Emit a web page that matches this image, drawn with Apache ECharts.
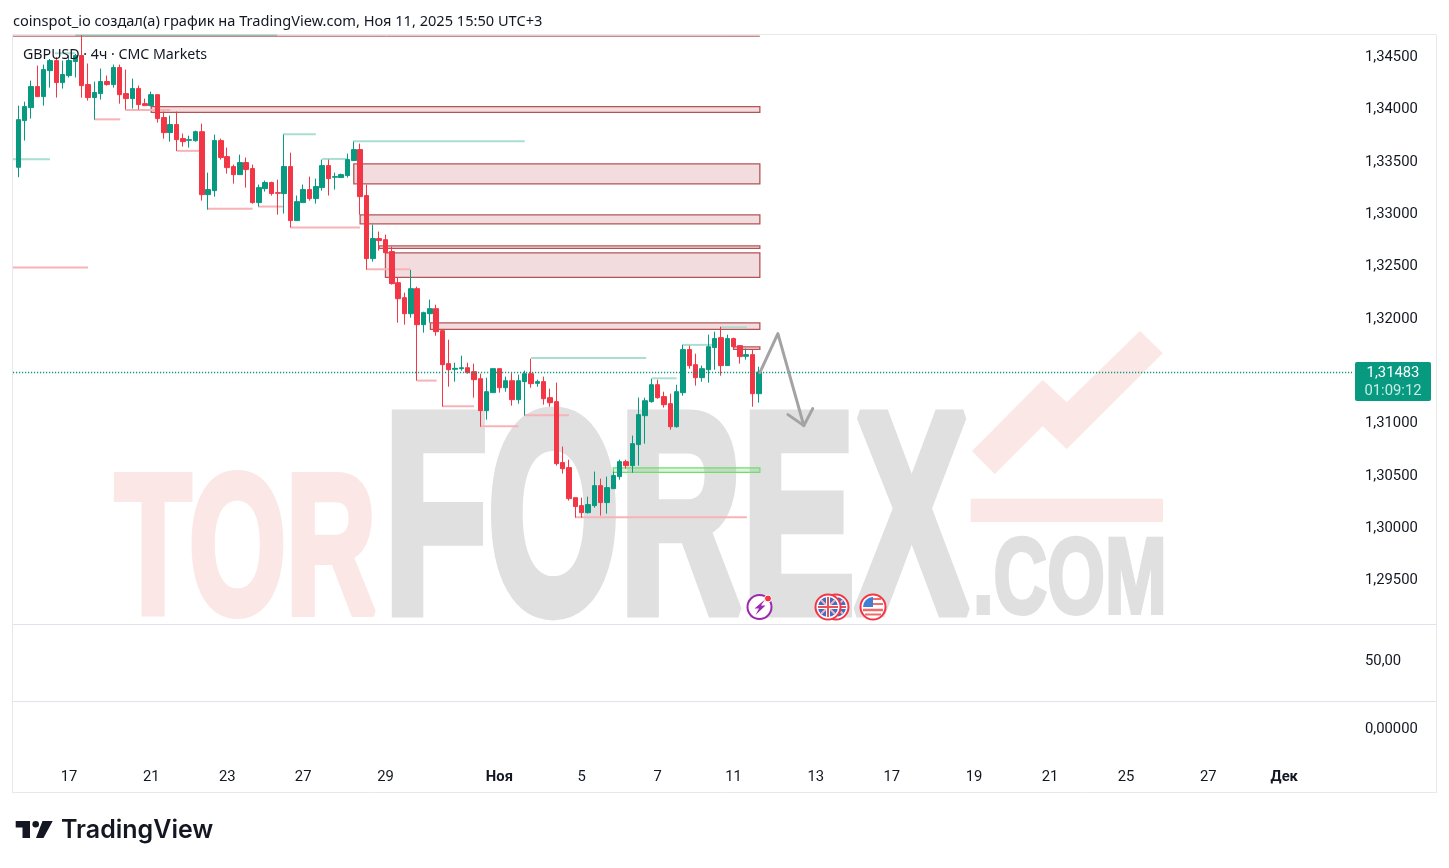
<!DOCTYPE html>
<html>
<head>
<meta charset="utf-8">
<title>GBPUSD 4ч</title>
<style>
    html, body { margin: 0; padding: 0; background: #fff; }
    #main { width: 1449px; height: 868px; }
</style>
<script src="https://cdn.jsdelivr.net/npm/echarts@6/dist/echarts.min.js"></script>
</head>
<body>
<div id="main"></div>
<script>
// bars
var opens = [
    1.33438,1.33884,1.34008,1.34209,1.34113,1.34361,1.34457,1.34247,1.34314,1.34448,
    1.34505,1.34228,1.34104,1.34142,1.34257,1.34228,1.34391,1.34142,1.34094,1.34190,
    1.34046,1.34027,1.34132,1.33913,1.33769,1.33846,1.33712,1.33696,1.33692,1.33778,
    1.33177,1.33215,1.33693,1.33540,1.33445,1.33368,1.33483,1.33426,1.33101,1.33234,
    1.33292,1.33196,1.33187,1.33445,1.32929,1.33101,1.33225,1.33139,1.33244,1.33454,
    1.33343,1.33340,1.33359,1.33502,1.33607,1.33168,1.32566,1.32757,1.32747,1.32633,
    1.32336,1.32193,1.32040,1.32279,1.31935,1.32040,1.32088,1.31878,1.31563,1.31509,
    1.31515,1.31524,1.31486,1.31419,1.31114,1.31286,1.31515,1.31333,1.31400,1.31219,
    1.31391,1.31467,1.31375,1.31391,1.31238,1.31200,1.30618,1.30570,1.30283,1.30207,
    1.30140,1.30207,1.30398,1.30236,1.30369,1.30484,1.30627,1.30589,1.30790,1.31066,
    1.31200,1.31362,1.31248,1.31181,1.30961,1.31286,1.31697,1.31553,1.31429,1.31505,
    1.31716,1.31811,1.31544,1.31802,1.31735,1.31633,1.31649,1.31276];
var closes = [
    1.33893,1.34018,1.34209,1.34113,1.34371,1.34457,1.34247,1.34324,1.34457,1.34505,
    1.34218,1.34104,1.34152,1.34257,1.34228,1.34391,1.34132,1.34094,1.34190,1.34037,
    1.34027,1.34132,1.33903,1.33769,1.33846,1.33702,1.33683,1.33702,1.33778,1.33177,
    1.33225,1.33693,1.33531,1.33435,1.33368,1.33483,1.33416,1.33101,1.33244,1.33292,
    1.33187,1.33190,1.33445,1.32929,1.33110,1.33225,1.33139,1.33254,1.33454,1.33330,
    1.33349,1.33368,1.33512,1.33607,1.33158,1.32566,1.32757,1.32738,1.32623,1.32327,
    1.32183,1.32040,1.32279,1.31935,1.32050,1.32088,1.31868,1.31553,1.31505,1.31518,
    1.31524,1.31477,1.31410,1.31114,1.31295,1.31515,1.31333,1.31400,1.31219,1.31400,
    1.31467,1.31372,1.31391,1.31228,1.31190,1.30608,1.30560,1.30274,1.30198,1.30140,
    1.30217,1.30398,1.30236,1.30379,1.30494,1.30627,1.30589,1.30799,1.31076,1.31209,
    1.31362,1.31238,1.31171,1.30961,1.31295,1.31697,1.31544,1.31429,1.31515,1.31725,
    1.31802,1.31544,1.31802,1.31725,1.31630,1.31649,1.31276,1.31483];
var lows = [
    1.33343,1.33693,1.33903,1.34113,1.34027,1.34199,1.34104,1.34190,1.34295,1.34295,
    1.34104,1.34075,1.33893,1.34085,1.34218,1.34199,1.34046,1.33989,1.33999,1.33989,
    1.34027,1.34018,1.33865,1.33712,1.33683,1.33594,1.33635,1.33626,1.33683,1.33120,
    1.33034,1.33158,1.33512,1.33378,1.33282,1.33368,1.33244,1.33091,1.33063,1.33206,
    1.33168,1.32986,1.32996,1.32862,1.32929,1.33101,1.33120,1.33091,1.33215,1.33168,
    1.33225,1.33340,1.33340,1.33502,1.32986,1.32461,1.32537,1.32642,1.32623,1.32318,
    1.31954,1.31935,1.32002,1.31400,1.31859,1.31954,1.31830,1.31152,1.31343,1.31391,
    1.31496,1.31467,1.31238,1.30961,1.31028,1.31286,1.31286,1.31295,1.31162,1.31181,
    1.31066,1.31333,1.31343,1.31171,1.31152,1.30589,1.30513,1.30255,1.30092,1.30092,
    1.30131,1.30188,1.30112,1.30131,1.30369,1.30455,1.30560,1.30522,1.30589,1.30799,
    1.31190,1.31228,1.31143,1.30932,1.30952,1.31257,1.31515,1.31353,1.31391,1.31381,
    1.31505,1.31448,1.31544,1.31725,1.31563,1.31601,1.31152,1.31190];
var highs = [
    1.34027,1.34065,1.34266,1.34409,1.34419,1.34473,1.34489,1.34457,1.34505,1.34521,
    1.34699,1.34429,1.34257,1.34381,1.34314,1.34419,1.34419,1.34371,1.34285,1.34218,
    1.34094,1.34161,1.34132,1.33970,1.33932,1.33970,1.33760,1.33740,1.33788,1.33855,
    1.33387,1.33750,1.33712,1.33626,1.33464,1.33559,1.33531,1.33464,1.33273,1.33311,
    1.33301,1.33320,1.33750,1.33578,1.33168,1.33273,1.33349,1.33330,1.33512,1.33512,
    1.33387,1.33378,1.33569,1.33683,1.33664,1.33273,1.32891,1.32824,1.32795,1.32681,
    1.32387,1.32241,1.32457,1.32298,1.32059,1.32174,1.32126,1.31887,1.31792,1.31572,
    1.31639,1.31572,1.31563,1.31467,1.31429,1.31515,1.31515,1.31439,1.31477,1.31458,
    1.31496,1.31610,1.31410,1.31439,1.31324,1.31382,1.30771,1.30646,1.30283,1.30283,
    1.30293,1.30532,1.30465,1.30484,1.30532,1.30646,1.30646,1.30876,1.31239,1.31238,
    1.31420,1.31410,1.31295,1.31276,1.31362,1.31744,1.31735,1.31658,1.31544,1.31840,
    1.31868,1.31916,1.31840,1.31811,1.31735,1.31706,1.31697,1.31534];

var lastPrice = 1.31483;
var lastPriceText = '1,31483';
var countdownText = '01:09:12';

// x axis, price axis and the two empty panes below
var dateTicks = [8, 21, 33, 45, 58, 76, 89, 101, 113, 126, 138, 151, 163, 175, 188, 200];
var dateLabels = ['17', '21', '23', '27', '29', 'Ноя', '5', '7', '11', '13', '17', '19', '21', '25', '27', 'Дек'];
var priceTicks = [1.295, 1.300, 1.305, 1.310, 1.320, 1.325, 1.330, 1.335, 1.340, 1.345];

// resistance / support boxes: [from bar, to bar, upper price, lower price]
var redZones = [
    [21, 117.15, 1.34018, 1.33963],
    [53, 117.15, 1.33470, 1.33279],
    [54, 117.15, 1.32983, 1.32897],
    [57, 117.15, 1.32687, 1.32664],
    [58, 117.15, 1.32620, 1.32387],
    [65.1, 117.15, 1.31952, 1.31891],
    [113, 117.15, 1.31723, 1.31700]
];
var greenZones = [[94, 117.15, 1.30567, 1.30525]];

// liquidity lines: [from bar, to bar, price]
var tealLines = [
    [-0.84, 5, 1.33514], [5.8, 9, 1.34527], [9, 40.9, 1.34700], [41.8, 47, 1.33753],
    [48, 51.9, 1.33518], [52.9, 80, 1.33686], [81, 99.2, 1.31618], [100.1, 104, 1.31423],
    [105, 109.7, 1.31742], [111, 115.1, 1.31910]
];
var pinkLines = [
    [-0.84, 11, 1.32480], [12, 16.1, 1.33896], [16.9, 24, 1.33986], [25, 28.7, 1.33595],
    [29.8, 37, 1.33041], [37.9, 42, 1.33063], [43, 54, 1.32862], [55, 62, 1.32464],
    [63, 66.1, 1.31401], [67, 72, 1.31155], [73, 79, 1.30964], [80, 87, 1.31069],
    [88, 115.1, 1.30095]
];
var topLine = [[-0.84, 117.15, 1.34690]];

// hand drawn forecast arrow
var arrowPath = [[117.15, 1.31477], [120, 1.31850], [124.1, 1.30971]];
var arrowHead = [[121.6, 1.31076], [124.1, 1.30971], [125.5, 1.31133]];

var UP = '#089981', DOWN = '#f23645', TEXT = '#131722';
var FONT = '"Noto Sans", sans-serif';
var LABEL_FONT = 'Roboto, sans-serif';
var LABEL_SIZE = 14.8;

var candles = [];
for (var i = 0; i < opens.length; i++) {
    candles.push([i, opens[i], closes[i], lows[i], highs[i]]);
}

function renderZone(fill, stroke) {
    return function(params, api) {
        var a = api.coord([api.value(0), api.value(2)]);
        var b = api.coord([api.value(1), api.value(3)]);
        return {
            type: 'rect',
            shape: { x: a[0], y: a[1], width: b[0] - a[0], height: b[1] - a[1] },
            style: { fill: fill, stroke: stroke, lineWidth: 1.3 }
        };
    };
}

function renderLevel(stroke, width) {
    return function(params, api) {
        var a = api.coord([api.value(0), api.value(2)]);
        var b = api.coord([api.value(1), api.value(2)]);
        return {
            type: 'line',
            shape: { x1: a[0], y1: a[1], x2: b[0], y2: b[1] },
            style: { stroke: stroke, lineWidth: width }
        };
    };
}

function levelSeries(data, stroke, width) {
    return {
        type: 'custom', data: data, clip: true, silent: true, z: 3,
        encode: { x: [0, 1], y: 2 },
        renderItem: renderLevel(stroke, width)
    };
}

function zoneSeries(data, fill, stroke) {
    return {
        type: 'custom', data: data, clip: true, silent: true, z: 3,
        encode: { x: [0, 1], y: [2, 3] },
        renderItem: renderZone(fill, stroke)
    };
}

function arrowSeries(data) {
    return {
        type: 'line', data: data, symbol: 'none', silent: true, z: 6,
        lineStyle: { color: '#a3a3a3', width: 3, cap: 'round', join: 'round' }
    };
}

// ---- pieces that are not data: watermark, frame, badges, logo
function wmText(text, x, y, size, sx, fill, stroke) {
    return {
        type: 'text', x: x, y: y, scaleX: sx, z: -10, silent: true,
        style: { text: text, font: 'bold ' + size + 'px "Liberation Sans"', fill: fill,
            stroke: fill, lineWidth: stroke, align: 'left', verticalAlign: 'middle' }
    };
}

function flagRing(cx, cy, z) {
    return { type: 'circle', z: z, shape: { cx: cx, cy: cy, r: 12.5 },
        style: { fill: '#fff', stroke: DOWN, lineWidth: 2 } };
}

function sector(cx, cy, from, to, fill, z) {
    return { type: 'sector', z: z + 1, shape: { cx: cx, cy: cy, r: 10, startAngle: from, endAngle: to },
        style: { fill: fill } };
}

function ukFlag(cx, cy, z) {
    var q = Math.PI / 2, items = [flagRing(cx, cy, z)];
    for (var k = 0; k < 4; k++) {
        items.push(sector(cx, cy, k * q, (k + 1) * q, '#3f6fc4', z));
    }
    var d = 7;
    items.push(
        { type: 'line', z: z + 2, shape: { x1: cx - d, y1: cy - d, x2: cx + d, y2: cy + d }, style: { stroke: '#f5b5b5', lineWidth: 2 } },
        { type: 'line', z: z + 2, shape: { x1: cx - d, y1: cy + d, x2: cx + d, y2: cy - d }, style: { stroke: '#f5b5b5', lineWidth: 2 } },
        { type: 'line', z: z + 2, shape: { x1: cx - 10, y1: cy, x2: cx + 10, y2: cy }, style: { stroke: '#fff', lineWidth: 4 } },
        { type: 'line', z: z + 2, shape: { x1: cx, y1: cy - 10, x2: cx, y2: cy + 10 }, style: { stroke: '#fff', lineWidth: 4 } },
        { type: 'line', z: z + 3, shape: { x1: cx - 10, y1: cy, x2: cx + 10, y2: cy }, style: { stroke: '#e8505b', lineWidth: 2 } },
        { type: 'line', z: z + 3, shape: { x1: cx, y1: cy - 10, x2: cx, y2: cy + 10 }, style: { stroke: '#e8505b', lineWidth: 2 } }
    );
    return items;
}

function usFlag(cx, cy, z) {
    return [
        flagRing(cx, cy, z),
        { type: 'line', z: z + 1, shape: { x1: cx - 1, y1: cy - 8, x2: cx + 8, y2: cy - 8 }, style: { stroke: '#f26b6b', lineWidth: 2 } },
        { type: 'line', z: z + 1, shape: { x1: cx, y1: cy - 3, x2: cx + 10, y2: cy - 3 }, style: { stroke: '#f26b6b', lineWidth: 2 } },
        { type: 'line', z: z + 1, shape: { x1: cx - 10, y1: cy + 3, x2: cx + 10, y2: cy + 3 }, style: { stroke: '#f26b6b', lineWidth: 2.5 } },
        { type: 'line', z: z + 1, shape: { x1: cx - 8, y1: cy + 7.5, x2: cx + 8, y2: cy + 7.5 }, style: { stroke: '#f26b6b', lineWidth: 2 } },
        sector(cx, cy, Math.PI, Math.PI * 1.5, '#3f7fd4', z)
    ];
}

var decor = [
    // watermark
    wmText('TOR', 115, 558, 198, 0.63, '#fbe7e6', 8),
    wmText('FOREX', 384, 533, 285, 0.595, '#e0e0e0', 12),
    wmText('.COM', 973, 583, 108, 0.687, '#e0e0e0', 4),
    { type: 'polygon', z: -10, silent: true, style: { fill: '#fbe7e6' },
      shape: { points: [[972, 451], [1042.7, 380], [1066.7, 402.3], [1140, 331], [1162.7, 353.3], [1066.7, 449], [1042.7, 426], [994.7, 474]] } },
    { type: 'rect', z: -10, silent: true, style: { fill: '#fbe7e6' },
      shape: { x: 970.7, y: 498.7, width: 192.3, height: 23.3 } },
    // frame and pane separators
    { type: 'rect', z: 1, silent: true, style: { fill: 'none', stroke: '#e8e8ea', lineWidth: 1 },
      shape: { x: 12.5, y: 34.5, width: 1424, height: 758 } },
    { type: 'line', z: 1, silent: true, style: { stroke: '#e0e3eb', lineWidth: 1 },
      shape: { x1: 13, y1: 624.5, x2: 1437, y2: 624.5 } },
    { type: 'line', z: 1, silent: true, style: { stroke: '#e0e3eb', lineWidth: 1 },
      shape: { x1: 13, y1: 701.5, x2: 1437, y2: 701.5 } },
    // last price tag
    { type: 'rect', z: 20, shape: { x: 1355, y: 362, width: 76, height: 39, r: 2 }, style: { fill: UP } },
    { type: 'text', z: 21, x: 1393, y: 373, style: { text: lastPriceText, font: LABEL_SIZE + 'px ' + LABEL_FONT, fill: '#fff', align: 'center', verticalAlign: 'middle' } },
    { type: 'text', z: 21, x: 1393, y: 391, style: { text: countdownText, font: LABEL_SIZE + 'px ' + LABEL_FONT, fill: '#c8ebe3', align: 'center', verticalAlign: 'middle' } },
    // event badges
    { type: 'circle', z: 20, shape: { cx: 759.5, cy: 607, r: 12 }, style: { fill: '#fff', stroke: '#9c27b0', lineWidth: 2 } },
    { type: 'polygon', z: 21, shape: { points: [[765, 599.5], [754.5, 608.5], [759, 608.5], [755.5, 615], [765.5, 605.5], [761, 605.5]] }, style: { fill: '#9c27b0' } },
    { type: 'circle', z: 22, shape: { cx: 768, cy: 598.5, r: 3.5 }, style: { fill: DOWN, stroke: '#fff', lineWidth: 1 } }
];
decor = decor.concat(ukFlag(836, 607, 20), ukFlag(828, 607, 24), usFlag(873, 607, 20));
decor.push(
    // TradingView logo
    { type: 'polygon', z: 20, shape: { points: [[15.7, 821], [30, 821], [30, 838], [22.5, 838], [22.5, 827.5], [15.7, 827.5]] }, style: { fill: TEXT } },
    { type: 'circle', z: 20, shape: { cx: 35.7, cy: 824.3, r: 3.3 }, style: { fill: TEXT } },
    { type: 'polygon', z: 20, shape: { points: [[42.5, 821], [52.7, 821], [43.5, 838], [36, 838]] }, style: { fill: TEXT } },
    { type: 'text', z: 20, x: 61, y: 830.5, style: { text: 'TradingView', font: '600 25px Inter, sans-serif', fill: TEXT, align: 'left', verticalAlign: 'middle' } }
);

var xMin = -0.84, xMax = 210.7;
var yMin = 1.29067, yMax = 1.34711;

// value axis labels sit 1px under the tick in the original, so they go through a rich style
function priceLabel(v, digits) {
    return '{p|' + v.toFixed(digits).replace('.', ',') + '}';
}
var priceRich = { p: { padding: [2, 0, 0, 0], fontFamily: LABEL_FONT, fontSize: LABEL_SIZE, color: TEXT } };

var option = {
    animation: false,
    backgroundColor: '#ffffff',
    title: [
        { text: 'coinspot_io создал(а) график на TradingView.com, Ноя 11, 2025 15:50 UTC+3', left: 13, top: 14, padding: 0,
          textStyle: { fontFamily: FONT, fontSize: 14.6, fontWeight: 'normal', color: TEXT } },
        { text: 'GBPUSD · 4ч · CMC Markets', left: 23, top: 48, padding: 0, z: 30,
          textStyle: { fontFamily: FONT, fontSize: 14.2, fontWeight: 'normal', color: TEXT } }
    ],
    graphic: decor,
    grid: [
        { left: 13, right: 97, top: 34, height: 591 },
        { left: 13, right: 97, top: 625, height: 76 },
        { left: 13, right: 97, top: 701, height: 54 }
    ],
    xAxis: [
        { type: 'value', gridIndex: 0, min: xMin, max: xMax, show: false },
        { type: 'value', gridIndex: 1, min: xMin, max: xMax, show: false },
        { type: 'value', gridIndex: 2, min: xMin, max: xMax, position: 'bottom',
          axisLine: { show: false }, axisTick: { show: false }, splitLine: { show: false },
          axisLabel: {
              customValues: dateTicks, margin: 15, color: TEXT, fontFamily: LABEL_FONT, fontSize: LABEL_SIZE,
              formatter: function(v) {
                  var s = dateLabels[dateTicks.indexOf(v)];
                  return (s === 'Ноя' || s === 'Дек') ? '{b|' + s + '}' : s;
              },
              rich: { b: { fontWeight: 'bold', fontSize: LABEL_SIZE, fontFamily: LABEL_FONT, color: TEXT } }
          } }
    ],
    yAxis: [
        { type: 'value', gridIndex: 0, position: 'right', min: yMin, max: yMax, scale: true,
          axisLine: { show: false }, axisTick: { show: false }, splitLine: { show: false },
          axisLabel: { customValues: priceTicks, margin: 13, rich: priceRich,
              formatter: function(v) { return priceLabel(v, 5); } } },
        { type: 'value', gridIndex: 1, position: 'right', min: -8.6, max: 100,
          axisLine: { show: false }, axisTick: { show: false }, splitLine: { show: false },
          axisLabel: { customValues: [50], margin: 13, rich: priceRich,
              formatter: function(v) { return priceLabel(v, 2); } } },
        { type: 'value', gridIndex: 2, position: 'right', min: -1, max: 1,
          axisLine: { show: false }, axisTick: { show: false }, splitLine: { show: false },
          axisLabel: { customValues: [0], margin: 13, rich: priceRich,
              formatter: function(v) { return priceLabel(v, 5); } } }
    ],
    series: [
        zoneSeries(redZones, 'rgba(178,40,51,0.16)', '#b25457'),
        zoneSeries(greenZones, 'rgba(76,200,76,0.2)', '#72dc72'),
        levelSeries(tealLines, '#a9ded2', 2),
        levelSeries(pinkLines, '#f8b3b8', 2),
        levelSeries(topLine, '#b25457', 1),
        {
            type: 'candlestick',
            data: candles,
            encode: { x: 0, y: [1, 2, 3, 4] },
            barWidth: 5,
            z: 4,
            itemStyle: { color: UP, color0: DOWN, borderColor: UP, borderColor0: DOWN, borderWidth: 1 },
            markLine: {
                silent: true, symbol: 'none', animation: false, precision: 5,
                label: { show: false },
                lineStyle: { color: UP, type: [1.2, 1.8], width: 1.4, opacity: 1 },
                data: [{ yAxis: lastPrice }]
            }
        },
        arrowSeries(arrowPath),
        arrowSeries(arrowHead)
    ]
};

var chart = echarts.init(document.getElementById('main'));
chart.setOption(option);
</script>
</body>
</html>
